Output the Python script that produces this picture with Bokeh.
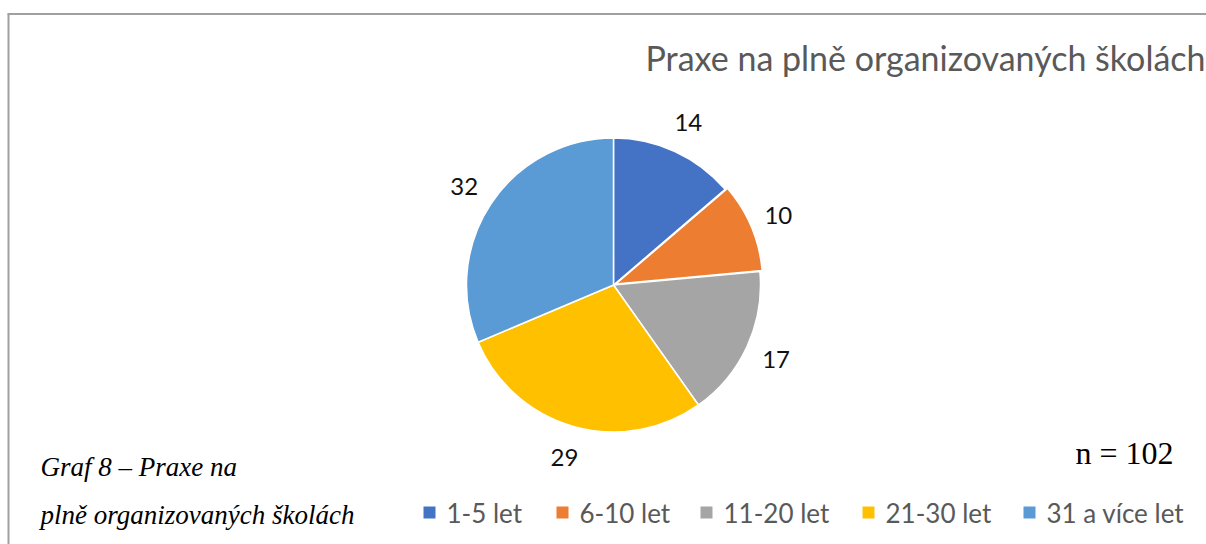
import numpy as np
from bokeh.plotting import figure
from bokeh.models import ColumnDataSource, Range1d
from bokeh.core.properties import value
from bokeh.embed import file_html
from bokeh.resources import INLINE

# ---- data ----
categories = ["1-5 let", "6-10 let", "11-20 let", "21-30 let", "31 a více let"]
counts = [14, 10, 17, 29, 32]
colors = ["#4472C4", "#ED7D31", "#A5A5A5", "#FFC000", "#5B9BD5"]
title_text = "Praxe na plně organizovaných školách"
caption_lines = ["Graf 8 – Praxe na", "plně organizovaných školách"]
n_text = "n = 102"

# ---- layout (screen pixels; page has no margin) ----
W, H = 1206, 544
def Y(s):
    return H - s

CX, CY, R = 613, Y(284.5), 147
LABEL_D = 179
EXPLODE_IDX, EXPLODE_PX = 1, 2.5
LEG_SQ_X = [423, 556, 700, 862, 1023]
LEG_Y = 512
FONT = "Lato"

p = figure(width=W, height=H, x_range=Range1d(0, W), y_range=Range1d(0, H),
           output_backend="svg", toolbar_location=None, min_border=0,
           x_axis_location=None, y_axis_location=None)
p.xgrid.visible = False
p.ygrid.visible = False
p.outline_line_color = None
p.background_fill_color = "white"
p.border_fill_color = "white"

# frame lines (top and left, as in the cropped reference)
p.segment(x0=[7, 8], y0=[Y(13.5), Y(13.5)], x1=[W, 8], y1=[Y(13.5), 0],
          line_color="#a0a0a0", line_width=2)

# ---- pie ----
total = sum(counts)
frac = np.array(counts) / total
cum = np.concatenate([[0], np.cumsum(frac)])
start = np.pi / 2 - cum[:-1] * 2 * np.pi
end = np.pi / 2 - cum[1:] * 2 * np.pi
mid = (start + end) / 2
xs = np.full(len(counts), float(CX))
ys = np.full(len(counts), float(CY))
xs[EXPLODE_IDX] += EXPLODE_PX * np.cos(mid[EXPLODE_IDX])
ys[EXPLODE_IDX] += EXPLODE_PX * np.sin(mid[EXPLODE_IDX])

src = ColumnDataSource(dict(x=xs, y=ys, start=start, end=end, color=colors,
                            lx=CX + LABEL_D * np.cos(mid), ly=CY + LABEL_D * np.sin(mid),
                            label=[str(c) for c in counts]))
p.wedge(x="x", y="y", radius=R, start_angle="start", end_angle="end", direction="clock",
        fill_color="color", line_color="white", line_width=1.5, source=src)
p.text(x="lx", y="ly", text="label", text_align="center", text_baseline="middle",
       text_font=value(FONT), text_font_size="24px", text_color="#111111", source=src)

# ---- title ----
p.text(x=[645], y=[Y(57)], text=[title_text], text_align="left", text_baseline="middle",
       text_font=value(FONT), text_font_size="34px", text_color="#595959")

# ---- legend ----
leg = ColumnDataSource(dict(sx=[x + 6 for x in LEG_SQ_X], sy=[Y(LEG_Y)] * 5,
                            tx=[x + 23 for x in LEG_SQ_X], ty=[Y(LEG_Y)] * 5,
                            color=colors, label=categories))
p.rect(x="sx", y="sy", width=12, height=12, fill_color="color", line_color=None, source=leg)
p.text(x="tx", y="ty", text="label", text_align="left", text_baseline="middle",
       text_font=value(FONT), text_font_size="26px", text_color="#595959", source=leg)

# ---- caption and n ----
p.text(x=[40, 40], y=[Y(466), Y(514)], text=caption_lines, text_align="left",
       text_baseline="middle", text_font=value("Liberation Serif"),
       text_font_style="italic", text_font_size="27px", text_color="#000000")
p.text(x=[1075], y=[Y(452)], text=[n_text], text_align="left", text_baseline="middle",
       text_font=value("Liberation Serif"), text_font_size="32px", text_color="#000000")

open("out.html", "w").write(file_html(p, INLINE))
